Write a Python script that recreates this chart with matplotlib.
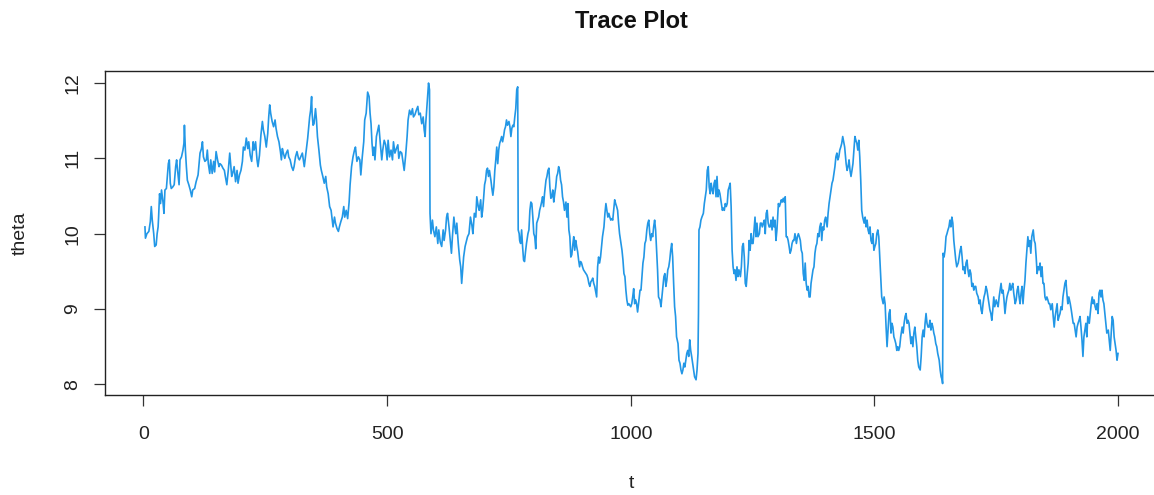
import matplotlib
matplotlib.use("Agg")
import matplotlib.pyplot as plt
import numpy as np

plt.rcParams['font.family'] = ['Liberation Sans', 'DejaVu Sans']

# --- trace values, in six stretches along t ---
t_seg1 = [3, 4, 7, 11, 14, 16, 18, 21, 23, 26, 28, 30, 31, 33, 35, 37, 40, 42, 44, 47,
          49, 51, 53, 55, 57, 60, 63, 66, 68, 70, 73, 75, 78, 81, 83, 84, 86, 88, 90, 93,
          96, 99, 101, 105, 108, 112, 114, 116, 119, 121, 123, 126, 129, 131, 133, 136, 138, 141, 144, 146,
          149, 152, 155, 157, 160, 163, 166, 168, 171, 174, 177, 179, 181, 183, 186, 189, 192, 194, 197, 200,
          203, 205, 208, 211, 214, 216, 219, 222, 225, 227, 230, 233, 235, 238, 241, 244, 246, 249, 252, 255,
          257, 259, 261, 264, 267, 270, 272, 275, 278, 281, 283, 285, 287, 290, 293, 296, 298, 301, 304, 307,
          309, 312, 315, 318, 320]
theta_seg1 = [10.09, 9.94, 10.00, 10.03, 10.16, 10.36, 10.18, 10.00, 9.83, 9.85, 10.00, 10.09, 10.22, 10.53, 10.40, 10.58, 10.42, 10.27, 10.58, 10.60,
              10.76, 10.93, 10.98, 10.67, 10.60, 10.62, 10.65, 10.89, 10.98, 10.84, 10.65, 10.98, 11.02, 11.11, 11.20, 11.44, 11.11, 10.89, 10.71, 10.65,
              10.58, 10.49, 10.58, 10.60, 10.69, 10.78, 10.93, 11.07, 11.13, 11.22, 11.02, 10.96, 10.98, 11.11, 10.93, 10.80, 10.98, 10.80, 10.96, 10.82,
              11.09, 10.98, 10.89, 10.93, 10.91, 10.87, 10.84, 10.76, 10.65, 10.84, 11.07, 10.91, 10.76, 10.80, 10.89, 10.69, 10.84, 10.67, 10.78, 10.84,
              10.96, 11.15, 11.11, 11.27, 11.13, 11.22, 11.04, 10.96, 11.22, 11.11, 11.22, 10.98, 10.89, 11.04, 11.31, 11.49, 11.38, 11.29, 11.15, 11.33,
              11.55, 11.71, 11.60, 11.49, 11.42, 11.51, 11.40, 11.29, 11.22, 11.09, 10.98, 11.13, 11.07, 11.00, 11.07, 11.11, 11.02, 10.98, 10.89, 10.84,
              10.89, 11.02, 11.09, 11.00, 10.98]

t_seg2 = [326, 330, 334, 337, 341, 343, 345, 346, 348, 350, 353, 355, 357, 360, 363, 365, 368, 371, 374, 376,
          379, 382, 385, 387, 389, 392, 394, 397, 400, 402, 405, 408, 411, 413, 416, 419, 422, 424, 427, 430,
          433, 435, 438, 441, 444, 446, 449, 452, 454, 457, 460, 463, 465, 467, 469, 471, 473, 475, 478, 481,
          483, 486, 489, 491, 494, 497, 500, 502, 505, 508, 511, 513, 516, 519, 522, 524, 527, 530, 532, 535,
          538, 541, 543, 546, 549, 552, 554, 557, 560, 563, 565, 568, 571, 574, 576, 578, 579, 582, 585, 587,
          588, 590, 593, 595, 598, 601, 604, 606, 609, 612, 615, 617, 620, 622, 624, 627, 630, 632, 634, 637,
          639, 641, 643, 646, 649, 651, 653, 655, 657, 660, 663, 665, 668, 671, 674, 676, 679, 682, 684]
theta_seg2 = [11.07, 10.89, 11.11, 11.27, 11.55, 11.64, 11.82, 11.60, 11.44, 11.46, 11.66, 11.51, 11.29, 11.11, 10.91, 10.84, 10.76, 10.67, 10.76, 10.62,
              10.53, 10.36, 10.31, 10.20, 10.09, 10.22, 10.14, 10.07, 10.03, 10.09, 10.16, 10.22, 10.36, 10.22, 10.31, 10.20, 10.42, 10.65, 10.89, 11.02,
              11.11, 11.15, 10.96, 11.02, 10.98, 10.78, 11.02, 11.22, 11.51, 11.60, 11.88, 11.82, 11.60, 11.46, 11.20, 11.04, 11.15, 10.98, 11.29, 11.38,
              11.44, 11.20, 10.98, 11.11, 11.24, 11.18, 10.98, 11.24, 11.02, 11.11, 10.98, 11.22, 11.07, 11.13, 11.18, 11.00, 11.09, 11.07, 10.98, 10.84,
              11.04, 11.29, 11.51, 11.64, 11.58, 11.66, 11.55, 11.58, 11.64, 11.69, 11.58, 11.60, 11.46, 11.55, 11.38, 11.29, 11.44, 11.73, 12.00, 11.91,
              10.27, 10.00, 10.18, 10.05, 9.96, 10.09, 9.87, 10.05, 9.89, 9.83, 10.05, 9.91, 10.05, 10.22, 10.27, 10.09, 9.87, 9.74, 9.96, 10.22,
              10.09, 10.00, 10.14, 9.87, 9.65, 9.56, 9.34, 9.52, 9.69, 9.83, 9.91, 9.96, 10.00, 10.22, 10.11, 10.00, 10.27, 10.22, 10.49]

t_seg3 = [687, 689, 692, 694, 696, 698, 700, 702, 704, 706, 708, 710, 713, 715, 717, 719, 721, 723, 725, 727,
          729, 731, 733, 735, 737, 739, 741, 743, 745, 747, 750, 752, 754, 756, 758, 760, 762, 764, 766, 768,
          769, 771, 772, 774, 776, 778, 780, 782, 784, 786, 789, 791, 793, 795, 797, 799, 801, 803, 805, 807,
          809, 811, 813, 815, 817, 819, 821, 823, 826, 828, 830, 832, 834, 836, 838, 840, 842, 844, 846, 848,
          850, 852, 854, 856, 858, 860, 862, 864, 867, 869, 871, 873, 875, 877, 879, 881, 883, 885, 887, 889,
          891, 893, 895, 897, 899, 901, 903, 906, 908, 910, 912, 914, 916, 918, 920, 922, 924, 926, 928, 930,
          932, 934, 936, 938, 940, 942, 945, 947, 949, 951, 953, 955, 957, 959, 961, 963, 965, 967, 969, 971,
          973, 975, 977, 980, 982, 984, 986, 988, 990, 992, 994, 996, 998, 1000, 1002, 1004, 1006, 1008, 1010, 1012,
          1014, 1016]
theta_seg3 = [10.36, 10.31, 10.45, 10.22, 10.31, 10.47, 10.65, 10.71, 10.84, 10.87, 10.76, 10.84, 10.71, 10.60, 10.51, 10.62, 10.84, 10.98, 11.15, 10.93,
              11.11, 11.20, 11.24, 11.29, 11.22, 11.29, 11.38, 11.42, 11.51, 11.44, 11.49, 11.42, 11.29, 11.40, 11.44, 11.42, 11.55, 11.66, 11.91, 11.95,
              10.05, 10.00, 9.91, 9.87, 10.05, 9.83, 9.65, 9.63, 9.76, 9.87, 10.00, 10.05, 10.31, 10.42, 10.40, 10.22, 10.00, 9.96, 9.80, 10.14,
              10.18, 10.22, 10.31, 10.36, 10.42, 10.49, 10.36, 10.53, 10.71, 10.76, 10.84, 10.87, 10.62, 10.47, 10.49, 10.58, 10.42, 10.53, 10.62, 10.76,
              10.80, 10.89, 10.84, 10.71, 10.65, 10.49, 10.42, 10.31, 10.42, 10.22, 10.40, 10.05, 9.96, 9.69, 9.72, 9.85, 9.96, 9.78, 9.91, 9.83,
              9.76, 9.65, 9.56, 9.63, 9.61, 9.56, 9.52, 9.49, 9.47, 9.45, 9.41, 9.34, 9.30, 9.36, 9.38, 9.41, 9.34, 9.30, 9.23, 9.16,
              9.56, 9.69, 9.61, 9.69, 9.83, 9.96, 10.09, 10.27, 10.40, 10.31, 10.22, 10.27, 10.22, 10.18, 10.20, 10.18, 10.31, 10.45, 10.40, 10.36,
              10.31, 10.14, 10.00, 9.87, 9.78, 9.65, 9.47, 9.43, 9.25, 9.12, 9.05, 9.07, 9.05, 9.03, 9.07, 9.16, 9.27, 9.07, 9.12, 9.07,
              8.96, 9.07]

t_seg4 = [1019, 1021, 1023, 1025, 1027, 1029, 1031, 1033, 1035, 1037, 1039, 1041, 1043, 1045, 1047, 1049, 1051, 1053, 1055, 1057,
          1060, 1062, 1064, 1066, 1068, 1070, 1072, 1074, 1076, 1078, 1080, 1082, 1084, 1086, 1088, 1090, 1092, 1094, 1097, 1099,
          1101, 1103, 1105, 1107, 1109, 1111, 1113, 1115, 1117, 1119, 1121, 1123, 1125, 1127, 1129, 1131, 1134, 1136, 1138, 1139,
          1140, 1142, 1144, 1146, 1149, 1151, 1153, 1155, 1157, 1159, 1161, 1163, 1165, 1167, 1169, 1171, 1173, 1175, 1177, 1179,
          1181, 1183, 1186, 1188, 1190, 1192, 1194, 1196, 1198, 1200, 1202, 1204, 1206, 1208, 1210, 1212, 1214, 1216, 1218, 1220,
          1222, 1225, 1227, 1229, 1231, 1233, 1235, 1237, 1239, 1241, 1243, 1245, 1247, 1249, 1251, 1253, 1255, 1257, 1259, 1261,
          1264, 1266, 1268, 1270, 1272, 1274, 1276, 1278, 1280, 1282, 1284, 1286, 1288, 1290, 1292, 1294, 1296, 1298, 1300, 1303,
          1305, 1307, 1309, 1311, 1313, 1315, 1317, 1319, 1321, 1323, 1325, 1327, 1329, 1331, 1333, 1335, 1337, 1340, 1342, 1344,
          1346, 1348, 1350, 1352, 1354, 1356, 1358, 1360, 1362, 1364, 1366]
theta_seg4 = [9.25, 9.25, 9.43, 9.61, 9.69, 9.87, 9.91, 10.05, 10.14, 10.18, 10.00, 9.91, 10.00, 9.96, 10.09, 10.18, 10.05, 9.78, 9.52, 9.16,
              9.12, 9.03, 9.16, 9.30, 9.43, 9.47, 9.30, 9.38, 9.52, 9.56, 9.65, 9.78, 9.87, 9.69, 9.34, 9.03, 8.90, 8.63, 8.54, 8.32,
              8.28, 8.19, 8.14, 8.19, 8.28, 8.23, 8.32, 8.41, 8.45, 8.37, 8.59, 8.45, 8.37, 8.28, 8.19, 8.10, 8.06, 8.19, 8.41, 8.94,
              10.05, 10.09, 10.18, 10.22, 10.27, 10.40, 10.49, 10.58, 10.84, 10.89, 10.62, 10.53, 10.67, 10.58, 10.53, 10.67, 10.71, 10.49, 10.76, 10.49,
              10.58, 10.53, 10.40, 10.31, 10.34, 10.31, 10.40, 10.36, 10.40, 10.58, 10.62, 10.67, 10.36, 9.78, 9.56, 9.47, 9.52, 9.38, 9.56, 9.43,
              9.52, 9.43, 9.56, 9.83, 9.87, 9.69, 9.34, 9.30, 9.47, 9.61, 9.91, 9.78, 10.00, 9.87, 9.87, 10.05, 10.22, 9.96, 10.14, 9.96,
              10.00, 10.14, 10.14, 10.09, 10.14, 10.18, 10.00, 10.27, 10.31, 10.14, 10.09, 10.09, 10.18, 10.05, 10.22, 10.09, 10.18, 9.91, 10.05, 10.40,
              10.36, 10.40, 10.45, 10.42, 10.47, 10.42, 10.49, 9.96, 9.96, 9.91, 9.83, 9.74, 9.78, 9.87, 9.91, 9.91, 10.00, 9.87, 9.96, 10.00,
              9.96, 9.91, 9.78, 9.74, 9.47, 9.38, 9.61, 9.34, 9.25, 9.30, 9.16]

t_seg5 = [1368, 1370, 1372, 1374, 1376, 1378, 1380, 1382, 1384, 1386, 1388, 1390, 1392, 1394, 1396, 1398, 1400, 1403, 1405, 1407,
          1409, 1411, 1413, 1415, 1417, 1419, 1421, 1423, 1425, 1427, 1429, 1431, 1433, 1435, 1437, 1439, 1442, 1444, 1446, 1448,
          1450, 1452, 1454, 1456, 1458, 1460, 1462, 1464, 1466, 1468, 1470, 1472, 1474, 1476, 1479, 1481, 1483, 1485, 1487, 1489,
          1491, 1493, 1495, 1497, 1499, 1501, 1503, 1505, 1507, 1509, 1511, 1513, 1515, 1518, 1520, 1522, 1524, 1526, 1528, 1530,
          1532, 1534, 1536, 1538, 1540, 1542, 1544, 1546, 1548, 1550, 1552, 1554, 1557, 1559, 1561, 1563, 1565, 1567, 1569, 1571,
          1573, 1575, 1577, 1579, 1581, 1583, 1585, 1587, 1589, 1591, 1594, 1596, 1598, 1600, 1602, 1604, 1606, 1608, 1610, 1612,
          1614, 1616, 1618, 1620, 1622, 1624, 1626, 1628, 1630, 1633, 1635, 1637, 1639, 1640, 1641, 1643, 1645, 1647, 1649, 1651,
          1653, 1655, 1657, 1659, 1661, 1663, 1665, 1667, 1669, 1672, 1674, 1676, 1678, 1680, 1682, 1684, 1686, 1688, 1690, 1692,
          1694, 1696, 1698, 1700, 1702, 1704]
theta_seg5 = [9.16, 9.34, 9.43, 9.52, 9.56, 9.74, 9.83, 9.87, 10.00, 9.96, 10.09, 10.14, 9.91, 10.09, 10.05, 10.18, 10.22, 10.09, 10.27, 10.40,
              10.49, 10.58, 10.67, 10.71, 10.80, 10.89, 11.02, 11.07, 10.98, 11.02, 11.11, 11.15, 11.20, 11.29, 11.22, 11.15, 10.93, 10.84, 10.89, 10.98,
              10.84, 10.76, 10.84, 10.93, 11.11, 11.29, 11.24, 11.20, 11.11, 11.24, 11.02, 10.71, 10.31, 10.22, 10.14, 10.22, 10.09, 10.18, 10.05, 10.00,
              10.09, 9.91, 9.87, 10.00, 9.78, 9.83, 9.87, 10.00, 10.05, 9.96, 9.69, 9.43, 9.16, 9.07, 9.16, 9.07, 8.76, 8.50, 8.72, 8.94,
              8.99, 8.68, 8.81, 8.76, 8.63, 8.59, 8.54, 8.45, 8.50, 8.45, 8.50, 8.63, 8.76, 8.68, 8.81, 8.90, 8.94, 8.81, 8.85, 8.81,
              8.68, 8.54, 8.63, 8.50, 8.68, 8.76, 8.63, 8.50, 8.32, 8.23, 8.19, 8.37, 8.63, 8.72, 8.63, 8.81, 8.94, 8.81, 8.76, 8.76,
              8.85, 8.72, 8.81, 8.76, 8.68, 8.63, 8.54, 8.50, 8.41, 8.32, 8.19, 8.10, 8.06, 8.01, 9.74, 9.69, 9.78, 9.96, 10.00, 10.05,
              10.09, 10.18, 10.09, 10.22, 10.14, 9.91, 9.78, 9.65, 9.56, 9.61, 9.69, 9.78, 9.83, 9.69, 9.52, 9.56, 9.47, 9.61, 9.65, 9.52,
              9.43, 9.52, 9.47, 9.30, 9.34, 9.25]

t_seg6 = [1706, 1708, 1710, 1713, 1715, 1717, 1719, 1721, 1723, 1725, 1727, 1729, 1731, 1733, 1735, 1737, 1739, 1741, 1743, 1745,
          1747, 1750, 1752, 1754, 1756, 1758, 1760, 1762, 1764, 1766, 1768, 1770, 1772, 1774, 1776, 1778, 1780, 1782, 1784, 1786,
          1789, 1791, 1793, 1795, 1797, 1799, 1801, 1803, 1805, 1807, 1809, 1811, 1813, 1815, 1817, 1819, 1821, 1823, 1826, 1828,
          1830, 1832, 1834, 1836, 1838, 1840, 1842, 1844, 1846, 1848, 1850, 1852, 1854, 1856, 1858, 1860, 1862, 1865, 1867, 1869,
          1871, 1873, 1875, 1877, 1879, 1881, 1883, 1885, 1887, 1889, 1891, 1893, 1895, 1897, 1899, 1902, 1904, 1906, 1908, 1910,
          1912, 1914, 1916, 1918, 1920, 1922, 1924, 1926, 1928, 1930, 1932, 1934, 1936, 1938, 1941, 1943, 1945, 1947, 1949, 1951,
          1953, 1955, 1957, 1959, 1961, 1963, 1965, 1967, 1969, 1971, 1973, 1975, 1977, 1980, 1982, 1984, 1986, 1988, 1990, 1992,
          1994, 1996, 1998, 2000]
theta_seg6 = [9.30, 9.30, 9.21, 9.16, 9.07, 9.12, 8.99, 8.94, 9.07, 9.16, 9.21, 9.30, 9.25, 9.16, 9.07, 8.99, 8.94, 8.85, 8.99, 9.16,
              9.03, 9.12, 9.07, 9.03, 9.16, 9.25, 9.34, 9.21, 9.25, 9.12, 8.94, 9.07, 9.16, 9.21, 9.25, 9.34, 9.25, 9.30, 9.34, 9.21,
              9.07, 9.12, 9.25, 9.30, 9.16, 9.07, 9.21, 9.30, 9.07, 9.25, 9.38, 9.61, 9.78, 9.96, 9.83, 9.91, 9.74, 9.96, 10.05, 9.91,
              9.87, 9.69, 9.47, 9.56, 9.52, 9.61, 9.43, 9.56, 9.34, 9.34, 9.16, 9.12, 9.16, 9.12, 9.07, 9.07, 8.99, 9.07, 8.90, 8.76,
              8.90, 8.99, 9.07, 8.85, 8.90, 8.94, 9.03, 8.99, 9.16, 9.25, 9.34, 9.38, 9.21, 9.07, 9.16, 9.07, 8.99, 8.90, 8.81, 8.81,
              8.72, 8.63, 8.76, 8.81, 8.85, 8.90, 8.76, 8.59, 8.37, 8.63, 8.72, 8.81, 8.63, 8.90, 8.81, 8.94, 9.07, 9.16, 9.07, 9.12,
              9.03, 8.99, 9.07, 8.94, 9.21, 9.25, 9.16, 9.25, 9.12, 9.07, 8.94, 8.81, 8.68, 8.72, 8.59, 8.45, 8.68, 8.90, 8.85, 8.63,
              8.54, 8.45, 8.32, 8.41]

x_ticks = [0, 500, 1000, 1500, 2000]
y_ticks = [8, 9, 10, 11, 12]

t = np.concatenate([t_seg1, t_seg2, t_seg3, t_seg4, t_seg5, t_seg6])
theta = np.concatenate([theta_seg1, theta_seg2, theta_seg3, theta_seg4, theta_seg5, theta_seg6])

fig = plt.figure(figsize=(11.54, 4.95), dpi=100)
# plot box runs past the right edge of the image, like the reference
ax = fig.add_axes([105 / 1154, 1 - 395 / 495, 1052 / 1154, 324 / 495])

ax.plot(t, theta, color='#2297E6', lw=1.2)

ax.set_xlim(-79, 2080)
ax.set_ylim(7.858, 12.16)
ax.set_xticks(x_ticks)
ax.set_yticks(y_ticks)
ax.set_xticklabels([str(v) for v in x_ticks])
ax.set_yticklabels([str(v) for v in y_ticks], rotation=90, va='center')

for s in ax.spines.values():
    s.set_color('#222222')
    s.set_linewidth(1.0)
ax.tick_params(axis='both', direction='out', length=8, width=0.9, color='#333333',
               labelsize=14, labelcolor='#222222')
ax.tick_params(axis='x', pad=14)
ax.tick_params(axis='y', pad=9)

ax.set_xlabel('t', fontsize=14, color='#222222')
ax.xaxis.set_label_coords(0.5, (395 - 483) / 324)
ax.xaxis.label.set_va('center')
ax.set_ylabel('theta', fontsize=14, color='#222222')
ax.yaxis.set_label_coords((20 - 105) / 1052, 0.5)
ax.yaxis.label.set_va('center')

fig.text(631 / 1154, 1 - 22 / 495, 'Trace Plot', ha='center', va='center',
         fontsize=17, fontweight='bold', color='#111111')

fig.savefig('out.png', dpi=100)
